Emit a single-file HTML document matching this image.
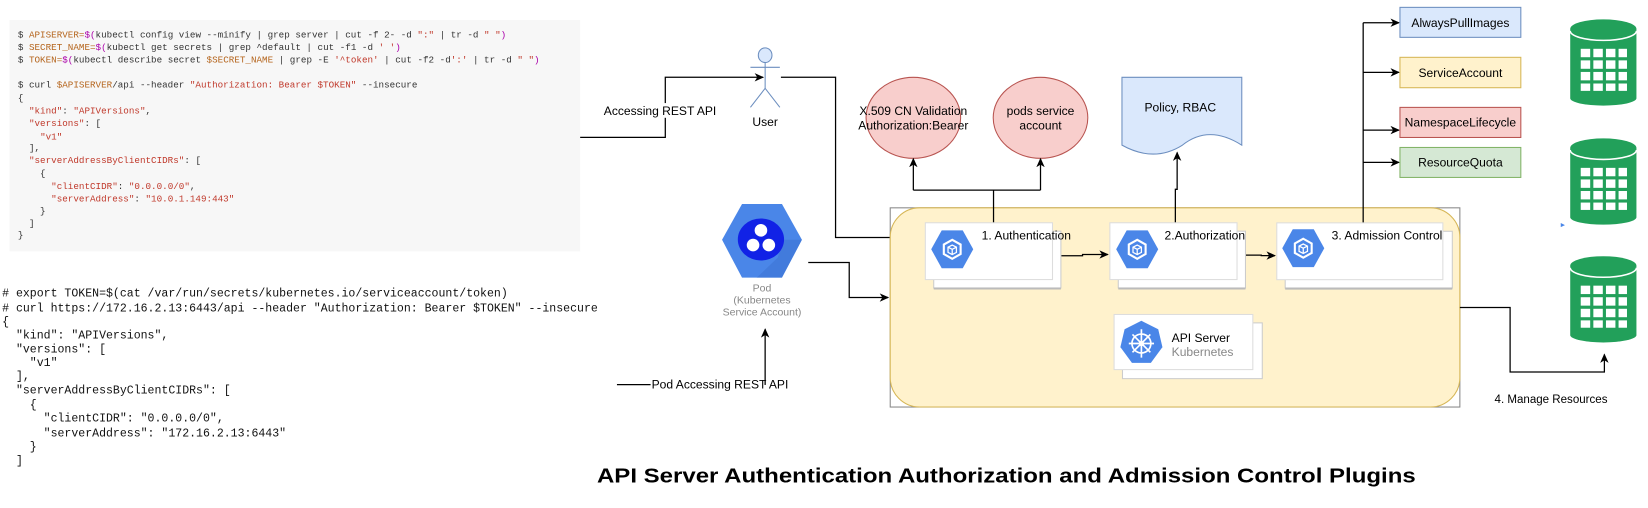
<!DOCTYPE html>
<html><head><meta charset="utf-8"><style>
html,body{margin:0;padding:0;background:#fff;}
svg{display:block;}
text{font-family:"Liberation Sans",sans-serif;white-space:pre;}
.m text{font-family:"Liberation Mono",monospace;}
</style></head><body>
<svg width="1648" height="508" viewBox="0 0 1568 483" preserveAspectRatio="none" xmlns="http://www.w3.org/2000/svg">
<defs>
<marker id="a" markerWidth="10" markerHeight="10" refX="8" refY="5" orient="auto" markerUnits="userSpaceOnUse">
<path d="M0,1 L9,5 L0,9 L2.5,5 Z" fill="#000"/></marker>
<g id="cyl">
<path d="M0,9 A31.5,9 0 0 1 63,9 L63,75 A31.5,7 0 0 1 0,75 Z" fill="#22a05a"/>
<path d="M0,11 A31.5,9 0 0 0 63,11" fill="none" stroke="#fff" stroke-width="1.5"/>
<g fill="#fff">
<rect x="10" y="28" width="9" height="8"/><rect x="22" y="28" width="9" height="8"/><rect x="34" y="28" width="9" height="8"/><rect x="46" y="28" width="8" height="8"/>
<rect x="10" y="39" width="9" height="8"/><rect x="22" y="39" width="9" height="8"/><rect x="34" y="39" width="9" height="8"/><rect x="46" y="39" width="8" height="8"/>
<rect x="10" y="50" width="9" height="8"/><rect x="22" y="50" width="9" height="8"/><rect x="34" y="50" width="9" height="8"/><rect x="46" y="50" width="8" height="8"/>
<rect x="10" y="61" width="9" height="7"/><rect x="22" y="61" width="9" height="7"/><rect x="34" y="61" width="9" height="7"/><rect x="46" y="61" width="8" height="7"/>
</g></g>
<g id="gcp">
<polygon points="-20,0 -10,-18 10,-18 20,0 10,18 -10,18" fill="#4a86e8"/>
<polygon points="0,-9 8,-4.5 8,4.5 0,9 -8,4.5 -8,-4.5" fill="none" stroke="#fff" stroke-width="2"/>
<path d="M-4,-2 L0,-4 L4,-2 L4,3 L0,5 L-4,3 Z M0,0 L0,5 M-4,-2 L0,0 L4,-2" fill="none" stroke="#fff" stroke-width="1.2"/>
</g>
<g id="box">
<rect x="8" y="8" width="121" height="54" fill="#fff" stroke="#ccc"/>
<rect x="0" y="0" width="121" height="54" fill="#fff" stroke="#ddd"/>
<line x1="8" y1="62.5" x2="129" y2="62.5" stroke="#bbb" stroke-width="2"/>
</g>
</defs>

<!-- top code block -->
<rect x="9" y="19" width="543" height="220" fill="#f7f7f7"/>
<g class="m" font-size="8.8" fill="#333">
<text x="17" y="35.5">$ <tspan fill="#b5651d">APISERVER=</tspan><tspan fill="#a0a">$(</tspan>kubectl config view --minify | grep server | cut -f 2- -d <tspan fill="#c0392b">":"</tspan> | tr -d <tspan fill="#c0392b">" "</tspan><tspan fill="#a0a">)</tspan></text>
<text x="17" y="47.5">$ <tspan fill="#b5651d">SECRET_NAME=</tspan><tspan fill="#a0a">$(</tspan>kubectl get secrets | grep ^default | cut -f1 -d <tspan fill="#c0392b">' '</tspan><tspan fill="#a0a">)</tspan></text>
<text x="17" y="59.5">$ <tspan fill="#b5651d">TOKEN=</tspan><tspan fill="#a0a">$(</tspan>kubectl describe secret <tspan fill="#b5651d">$SECRET_NAME</tspan> | grep -E <tspan fill="#c0392b">'^token'</tspan> | cut -f2 -d<tspan fill="#c0392b">':'</tspan> | tr -d <tspan fill="#c0392b">" "</tspan><tspan fill="#a0a">)</tspan></text>
<text x="17" y="83">$ curl <tspan fill="#b5651d">$APISERVER</tspan>/api --header <tspan fill="#c0392b">"Authorization: Bearer $TOKEN"</tspan> --insecure</text>
<text x="17" y="95.5">{</text>
<text x="17" y="108">  <tspan fill="#c0392b">"kind"</tspan>: <tspan fill="#c0392b">"APIVersions"</tspan>,</text>
<text x="17" y="120">  <tspan fill="#c0392b">"versions"</tspan>: [</text>
<text x="17" y="132.5">    <tspan fill="#c0392b">"v1"</tspan></text>
<text x="17" y="143">  ],</text>
<text x="17" y="155">  <tspan fill="#c0392b">"serverAddressByClientCIDRs"</tspan>: [</text>
<text x="17" y="167.5">    {</text>
<text x="17" y="179.5">      <tspan fill="#c0392b">"clientCIDR"</tspan>: <tspan fill="#c0392b">"0.0.0.0/0"</tspan>,</text>
<text x="17" y="191.5">      <tspan fill="#c0392b">"serverAddress"</tspan>: <tspan fill="#c0392b">"10.0.1.149:443"</tspan></text>
<text x="17" y="203">    }</text>
<text x="17" y="215">  ]</text>
<text x="17" y="226">}</text>
</g>

<!-- bottom code block -->
<g class="m" font-size="11" fill="#111">
<text x="2" y="282"># export TOKEN=$(cat /var/run/secrets/kubernetes.io/serviceaccount/token)</text>
<text x="2" y="296"># curl https://172.16.2.13:6443/api --header "Authorization: Bearer $TOKEN" --insecure</text>
<text x="2" y="309">{</text>
<text x="2" y="322">  "kind": "APIVersions",</text>
<text x="2" y="335">  "versions": [</text>
<text x="2" y="348">    "v1"</text>
<text x="2" y="361">  ],</text>
<text x="2" y="374">  "serverAddressByClientCIDRs": [</text>
<text x="2" y="388">    {</text>
<text x="2" y="401">      "clientCIDR": "0.0.0.0/0",</text>
<text x="2" y="415">      "serverAddress": "172.16.2.13:6443"</text>
<text x="2" y="428">    }</text>
<text x="2" y="441">  ]</text>
</g>

<!-- connectors left -->
<g fill="none" stroke="#000" stroke-width="1.2">
<path d="M552,130.6 H633 V73.5 H726" marker-end="url(#a)"/>
<path d="M743,73.5 H795 V225.8 H847"/>
<path d="M769,249.6 H808 V282.9 H845" marker-end="url(#a)"/>
<path d="M587,365.7 H619"/>
<path d="M728,366 V313" marker-end="url(#a)"/>
</g>
<rect x="579" y="98" width="98" height="14" fill="#fff"/>
<text x="628" y="109.5" font-size="11.5" text-anchor="middle">Accessing REST API</text>
<text x="620" y="369.5" font-size="11.5">Pod Accessing REST API</text>

<!-- user -->
<g stroke="#6c8ebf" stroke-width="1" fill="none">
<ellipse cx="728" cy="52.5" rx="6.5" ry="7" fill="#dae8fc"/>
<line x1="728" y1="59.5" x2="728" y2="84"/>
<line x1="714" y1="64" x2="742" y2="64"/>
<path d="M714,102 L728,84 L742,102"/>
</g>
<text x="728" y="120" font-size="11.5" text-anchor="middle">User</text>

<!-- pod icon -->
<polygon points="687,228 706,194 744,194 763,228 744,264 706,264" fill="#4a86e8"/>
<polygon points="745,228 763,228 744,264 720,264 740,245" fill="#3d75d4" opacity="0.6"/>
<ellipse cx="724" cy="227.7" rx="22" ry="20" fill="#1122e6"/>
<circle cx="724" cy="219" r="6" fill="#fff"/>
<circle cx="716.5" cy="233" r="6" fill="#fff"/>
<circle cx="731.5" cy="233" r="6" fill="#fff"/>
<g font-size="10" fill="#888" text-anchor="middle">
<text x="725" y="277">Pod</text>
<text x="725" y="288.5">(Kubernetes</text>
<text x="725" y="300">Service Account)</text>
</g>

<!-- circles -->
<ellipse cx="869" cy="112" rx="45" ry="38.5" fill="#f8cecc" stroke="#b85450"/>
<ellipse cx="990" cy="112" rx="45" ry="38.5" fill="#f8cecc" stroke="#b85450"/>
<g font-size="11.5" text-anchor="middle">
<text x="869" y="109.5">X.509 CN Validation</text>
<text x="869" y="123">Authorization:Bearer</text>
<text x="990" y="109.5">pods service</text>
<text x="990" y="123">account</text>
</g>

<!-- policy doc -->
<path d="M1067.5,73.5 H1181.5 V138 Q1150,118 1125,138 Q1098,155 1067.5,138 Z" fill="#dae8fc" stroke="#6c8ebf"/>
<text x="1123" y="106" font-size="11.5" text-anchor="middle">Policy, RBAC</text>

<!-- container -->
<rect x="847" y="197.6" width="542" height="189.4" fill="#fff" stroke="#888"/>
<rect x="847" y="197.6" width="542" height="189.4" rx="28" fill="#fff2cc" stroke="#d6b656"/>

<!-- up connectors -->
<g fill="none" stroke="#000" stroke-width="1.2">
<path d="M945.3,211.8 V180.8"/>
<path d="M869,180.8 H990"/>
<path d="M869,180.8 V151" marker-end="url(#a)"/>
<path d="M990,180.8 V151" marker-end="url(#a)"/>
<path d="M1118.3,211.8 V180 H1120 V145" marker-end="url(#a)"/>
<path d="M1009,243.2 H1030 V242 H1054" marker-end="url(#a)"/>
<path d="M1181.5,242.6 H1200 V243 H1213" marker-end="url(#a)"/>
<path d="M1297,211.9 V21.6"/>
<path d="M1297,21.6 H1331" marker-end="url(#a)"/>
<path d="M1297,68.8 H1331" marker-end="url(#a)"/>
<path d="M1297,123.7 H1331" marker-end="url(#a)"/>
<path d="M1297,154.4 H1331" marker-end="url(#a)"/>
<path d="M1389,292.4 H1436.8 V353.7 H1526.5 V337" marker-end="url(#a)"/>
</g>

<!-- boxes -->
<use href="#box" x="880.4" y="211.8"/>
<use href="#gcp" x="906" y="237"/>
<text x="934" y="227.5" font-size="11.5">1. Authentication</text>
<use href="#box" x="1056" y="211.8"/>
<use href="#gcp" x="1082" y="237"/>
<text x="1108" y="227.5" font-size="11.5">2.Authorization</text>
<g transform="translate(1214.8,211.9)">
<rect x="8" y="8" width="159" height="54" fill="#fff" stroke="#ccc"/>
<rect x="0" y="0" width="158" height="54" fill="#fff" stroke="#ddd"/>
<line x1="8" y1="62.5" x2="167" y2="62.5" stroke="#bbb" stroke-width="2"/>
</g>
<use href="#gcp" x="1240" y="236"/>
<text x="1267" y="227.5" font-size="11.5">3. Admission Control</text>

<!-- API server -->
<rect x="1068" y="307" width="133" height="53" fill="#fff" stroke="#ccc"/>
<rect x="1060" y="299" width="132" height="52.4" fill="#fff" stroke="#ddd"/>
<polygon points="1086,305 1102,313 1106,330 1095,345 1077,345 1066,330 1070,313" fill="#4a86e8"/>
<g stroke="#fff" stroke-width="1.6" fill="none">
<circle cx="1086" cy="326.6" r="9"/>
<path d="M1086,313 V340 M1074,326.6 H1098 M1077.5,318 L1094.5,335 M1094.5,318 L1077.5,335"/>
</g>
<circle cx="1086" cy="326.6" r="2.5" fill="#fff"/>
<text x="1114.8" y="325" font-size="11.5">API Server</text>
<text x="1114.8" y="338.5" font-size="11.5" fill="#888">Kubernetes</text>

<!-- plugin boxes -->
<rect x="1332" y="7" width="115" height="28.5" fill="#dae8fc" stroke="#6c8ebf"/>
<rect x="1332" y="54.5" width="115" height="28.9" fill="#fff2cc" stroke="#d6b656"/>
<rect x="1332" y="102.1" width="115" height="28.6" fill="#f8cecc" stroke="#b85450"/>
<rect x="1332" y="140.2" width="115" height="28.5" fill="#d5e8d4" stroke="#82b366"/>
<g font-size="11.5" text-anchor="middle">
<text x="1389.5" y="25.5">AlwaysPullImages</text>
<text x="1389.5" y="73">ServiceAccount</text>
<text x="1389.5" y="120.5">NamespaceLifecycle</text>
<text x="1389.5" y="158.5">ResourceQuota</text>
</g>

<!-- cylinders -->
<use href="#cyl" x="1494" y="18.4"/>
<use href="#cyl" x="1494" y="131.6"/>
<use href="#cyl" x="1494" y="243.6"/>
<path d="M1485,212 L1489,214 L1485,216 Z" fill="#4a86e8"/>

<text x="1422" y="383" font-size="11">4. Manage Resources</text>

<text x="568" y="459" font-size="19.5" font-weight="bold" textLength="779" lengthAdjust="spacingAndGlyphs">API Server Authentication Authorization and Admission Control Plugins</text>
</svg>
</body></html>
